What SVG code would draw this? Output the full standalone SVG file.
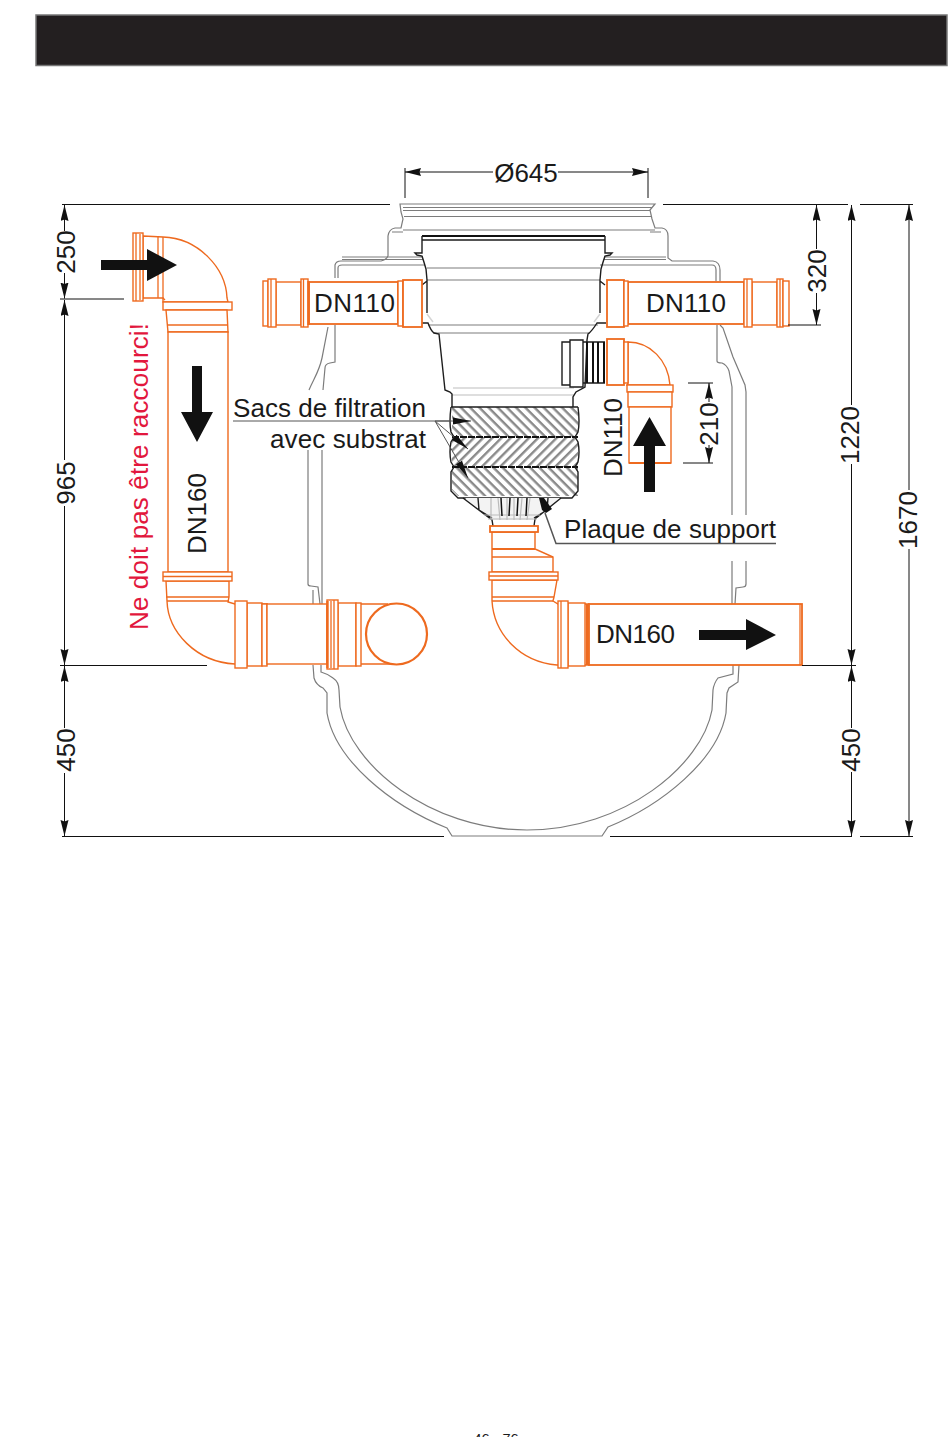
<svg xmlns="http://www.w3.org/2000/svg" width="950" height="1437" viewBox="0 0 950 1437">
<style>
text{font-family:"Liberation Sans",Arial,sans-serif;font-size:26px;fill:#1a1a1a}
.g{fill:none;stroke:#7c7c7c;stroke-width:1.2}
.lg{fill:none;stroke:#d4d4d4;stroke-width:1.5}
.b{fill:none;stroke:#1d1d1d;stroke-width:1.4}
.bt{fill:none;stroke:#111;stroke-width:2}
.o{fill:#fff;stroke:#ee6a1f;stroke-width:1.4}
.on{fill:none;stroke:#ee6a1f;stroke-width:1.3}
.ot{fill:none;stroke:#ee6a1f;stroke-width:2.4}
.d{fill:none;stroke:#111;stroke-width:1}
.dm{fill:none;stroke:#111;stroke-width:1;marker-end:url(#tip)}
.ld{fill:none;stroke:#555;stroke-width:1}
.ldm{fill:none;stroke:#555;stroke-width:1;marker-end:url(#ltip)}
.ar{fill:#111;stroke:none}
</style>
<defs>
<marker id="tip" markerUnits="userSpaceOnUse" markerWidth="17" markerHeight="9" refX="16" refY="4" orient="auto"><path d="M0 0 L16 4 L0 8 L1.500 4 Z" fill="#111"/></marker>
<marker id="ltip" markerUnits="userSpaceOnUse" markerWidth="20" markerHeight="9" refX="18" refY="4" orient="auto"><path d="M0 0.500 L18 4 L0 7.500 Z" fill="#111"/></marker>
<pattern id="h1" width="6.500" height="6.500" patternUnits="userSpaceOnUse" patternTransform="rotate(45)"><rect width="6.500" height="6.500" fill="#fff"/><rect width="6.500" height="2.400" fill="#8a8a8a"/></pattern>
<pattern id="h2" width="6.500" height="6.500" patternUnits="userSpaceOnUse" patternTransform="rotate(-45)"><rect width="6.500" height="6.500" fill="#fff"/><rect width="6.500" height="2.400" fill="#8a8a8a"/></pattern>
</defs>
<rect width="950" height="1437" fill="#fff"/>
<rect id="header" x="36" y="15" width="911" height="50.500" fill="#231f20" stroke="#777" stroke-width="1.500"/>

<g id="tank">
<path class="g" d="M309 390 C314 378 319 372 322 358 L328 327"/>
<path class="g" d="M323 390 L325 368 Q325 364 330 363 L335 362 L335 325"/>
<path class="g" d="M335 278 L335 265 Q336 261 341 261 L381 261 Q386 260 388 256 L388 236 Q389 229 395 228 L401 228 L403 219 L401 212 L400 204 L655 204 L650 210 L652 219 L655 228 L662 228 Q668 229 668 236 L668 258 L672 261 L713 261 Q720 262 720 270 L720 281"/>
<path class="g" d="M338 278 L338 268 Q338 265 342 265 L425 265 M600 265 L712 265 Q716 265 716 270 L716 281"/>
<path class="g" d="M392 232 L403 232 M650 232 L661 232 M403 207.500 L652 207.500 M403 210.500 L650 210.500 M404 216.500 L651 216.500 M403 230 L655 230"/>
<path class="g" d="M342 257 L423 257 M604 257 L666 257 M342 259.500 L423 259.500 M604 259.500 L666 259.500"/>
<path class="g" d="M717 325 L717 361 Q717 363 722 363 Q727 365 729 371 L732 387 L732 515"/>
<path class="g" d="M720 325 L723 328 L733 357 L745 385 L746 392 L746 515"/>
<path class="g" d="M732 561 L732 604 M746 561 L746 584 Q746 587 743 587 L736 588 L735 604"/>
<path class="g" d="M308 450 L308 584 Q308 586 311 586 L318 587 L320 604 M322 450 L322 604 M313 590 L313 604"/>
<path class="g" d="M313 665 L314 678 Q316 685 323 688 L327 693 L327 713 C335 760 390 805 447 828 L452 836 L602 836 L608 827 C662 805 718 760 726 713 L727 693 L729 688 L738 682 L739 665"/>
<path class="g" d="M321 665 L321 672 Q328 674 333 678 Q339 682 339 690 L340 707 C350 765 430 830 527 830 C624 830 702 765 712 710 L713 690 Q714 683 718 678 L733 674 L733 665"/>
</g>

<g id="filter">
<path class="g" d="M427 268 L600 268 M427 280 L600 280 M428 325 L598 325 M433 333 L590 333"/>
<path class="lg" d="M453 388 L574 388 M452 395 L574 395 M427 314 L433 322 M600 314 L594 322"/>
<path class="bt" d="M422 236 L605 236"/>
<path class="b" d="M422 236 L422 253 L415 253 L417 255 L422 256 Q424 262 426 269 L427 280 L427 313 M422 285 L427 281 M422 323 L428 323 Q431 331 434 333 L439 334 L445 390 L450 392 L452 394 L452 407"/>
<path class="b" d="M422 240 L605 240 M605 236 L605 253 L612 253 L610 255 L605 256 Q603 262 601 269 L600 280 L600 313 M605 285 L600 281 M606 323 L597 323 Q592 331 588 334 L587 340 L585 387 L576 392 L573 397 L573 407"/>
<path d="M452 407 L578 407 L578 437 L452 437 Z" fill="url(#h1)"/>
<path d="M452 437 L578 437 L578 467 L452 467 Z" fill="url(#h2)"/>
<path d="M452 467 L578 467 L578 496 L458 496 L452 490 Z" fill="url(#h1)"/>
<path class="bt" stroke-dasharray="7 1" d="M452 437 L578 437 M452 467 L578 467"/>
<path class="b" stroke-width="1.600" d="M451 407 L578 407 M451 407 Q449 422 451 432 L454 437 L451 442 Q449 452 451 462 L454 467 L451 472 L451 491 L458 498 L572 498 L578 491 L578 472 L575 467 L578 462 Q580 452 578 442 L575 437 L578 432 Q580 422 578 407"/>
<path d="M465 498 L493 520 L534 520 L561 498 Z" fill="#f3f3f3"/>
<path class="b" d="M463 498 L492 520 L493 526 M478 498 L479 510 L492 518 M561 498 L535 519 L534 526 M548 498 L547 510 L534 518"/>
<path class="g" style="stroke:#bbb" d="M491 498 L491 520 M498 498 L500 520 M507 498 L507 520 M514 498 L514 520 M522 498 L520 520 M530 498 L527 520 M484 515 L540 515 M488 519 L537 519"/>
<path class="bt" style="stroke-width:1.500" d="M510 498 L509 516 M518 498 L517 516 M501 498 L502 516 M527 498 L526 516"/>
<path class="ar" d="M539 498 L544 498 L552 509 L546 513 L542 510 Z"/>
</g>

<g id="adapter">
<path class="b" fill="#fff" d="M583 340 L570 340 L570 342 L562 342 L562 385 L570 385 L570 387 L583 387 Z M570 342 L570 385"/>
<path class="b" d="M583 342 L605 342 M583 383 L605 383"/>
<path class="bt" d="M587 342 L587 383 M593 342 L593 383 M598 342 L598 383 M604 342 L604 383"/>
</g>

<g id="pipe-inlet">
<path class="o" d="M143 236 L163 237 C198 238 226 268 227 298 L228 302 L163 302 L163 298 L143 298 Z"/>
<path class="on" d="M158 236 L158 298 M163 237 L163 298 M163 298 L165 300"/>
<rect class="o" x="133" y="233" width="10" height="68"/>
<path class="on" d="M136 233 L136 301 M140 234 L140 300"/>
<rect class="o" x="163" y="302" width="69" height="8"/>
<path class="o" d="M166 310 L227 310 L228 332 L168 332 Z"/>
<path class="on" d="M167 325 L228 325"/>
</g>

<g id="pipe-dn160-vertical">
<path class="o" d="M168 332 L228 332 L228 572 L168 572 Z"/>
<path class="o" d="M166 581 L229 581 L229 597 L228 602 L235 604 L267 604 L267 664 L235 664 C196 662 168 632 167 601 Z"/>
<path class="on" d="M166 597 L229 597 M167 601 L229 601"/>
<rect class="o" x="163" y="572" width="69" height="9"/>
<path class="on" d="M163 576.500 L232 576.500"/>
</g>

<g id="pipe-horizontal-inlet">
<rect class="o" x="247" y="603" width="15" height="63"/>
<rect class="o" x="262" y="604" width="5" height="62"/>
<rect class="o" x="235" y="601" width="12" height="67"/>
<rect class="o" x="267" y="604" width="60" height="60"/>
<rect class="o" x="338" y="603" width="18" height="63"/>
<rect class="o" x="356" y="603" width="5" height="63"/>
<rect class="o" x="327" y="600" width="11" height="69"/>
<path class="on" d="M331 601 L331 668 M334 600 L334 669 M361 604 L388 604 M361 664 L396 664"/>
<path class="ot" d="M327.500 601 L327.500 668"/>
<circle cx="396.500" cy="634" r="30.500" fill="#fff" stroke="#ee6a1f" stroke-width="2.200"/>
</g>

<g id="pipe-dn110-left">
<rect class="o" x="309" y="282" width="89" height="42" stroke-width="1.800" style="stroke-width:1.800"/>
<rect class="o" x="276" y="282" width="25" height="43"/>
<rect class="o" x="263" y="281" width="5" height="45"/>
<rect class="o" x="268" y="279" width="8" height="48"/>
<rect class="o" x="301" y="279" width="7" height="48"/>
<path class="on" d="M303.500 279 L303.500 327 M271 279 L271 327"/>
<path class="ot" d="M308.500 281 L308.500 325"/>
<rect class="o" x="398" y="281" width="5" height="45"/>
<rect class="o" x="403" y="280" width="19" height="47" style="stroke-width:1.800"/>
</g>

<g id="pipe-dn110-right">
<rect class="o" x="628" y="282" width="116" height="42" style="stroke-width:1.800"/>
<rect class="o" x="752" y="282" width="25" height="43"/>
<rect class="o" x="744" y="279" width="8" height="48"/>
<rect class="o" x="777" y="279" width="6" height="48"/>
<rect class="o" x="783" y="281" width="6" height="45"/>
<path class="on" d="M747 279 L747 327 M780 279 L780 327"/>
<rect class="o" x="607" y="280" width="17" height="47" style="stroke-width:1.800"/>
<rect class="o" x="624" y="281" width="4" height="45"/>
</g>

<g id="pipe-dn110-elbow">
<path class="o" d="M628 342 C650 342 668 360 670 385 L627 385 L628 383 Z"/>
<rect class="o" x="607" y="339" width="17" height="46" style="stroke-width:1.800"/>
<rect class="o" x="624" y="342" width="4" height="41"/>
<rect class="o" x="627" y="385" width="46" height="7"/>
<rect class="o" x="628" y="392" width="44" height="15"/>
<rect class="o" x="629" y="407" width="42" height="56"/>
<path class="ot" style="stroke-width:1.800" d="M629 463 L671 463"/>
</g>

<g id="pipe-outlet">
<path class="o" d="M492 532 L535 532 L535 549 L553 557 L553 572 L492 572 Z"/>
<path class="on" d="M492 557 L553 557"/>
<path class="ot" style="stroke-width:1.800" d="M492 549 L535 549"/>
<rect class="o" x="490" y="526" width="48" height="6" style="stroke-width:1.800"/>
<path class="o" d="M492 580 L557 580 L554 597 L553 601 L558 604 L589 604 L589 665 L557 665 C520 662 494 634 492 601 Z"/>
<path class="on" d="M492 597 L554 597 M492 601 L553 601"/>
<rect class="o" x="489" y="572" width="69" height="8"/>
<path class="on" d="M489 576 L558 576"/>
<rect class="o" x="568" y="603" width="17" height="63"/>
<rect class="o" x="558" y="601" width="10" height="67"/>
<path class="on" d="M561 601 L561 668"/>
<rect class="o" x="589" y="604" width="213" height="61" style="stroke-width:1.800"/>
<path class="on" d="M800 604 L800 665"/>
<path class="ot" d="M587 604 L587 665"/>
</g>

<g id="flow-arrows">
<path id="arrow-1" class="ar" d="M101 260 L147 260 L147 249 L177 265 L147 281 L147 270 L101 270 Z"/>
<path id="arrow-2" class="ar" d="M192 366 L202 366 L202 412 L213 412 L197 442 L181 412 L192 412 Z"/>
<path id="arrow-3" class="ar" d="M644 492 L655 492 L655 446 L666 446 L649.500 417 L633 446 L644 446 Z"/>
<path id="arrow-4" class="ar" d="M699 630 L746 630 L746 619 L776 635 L746 650 L746 640 L699 640 Z"/>
</g>

<g id="connectors">
<path class="d" d="M62 204.500 L390 204.500 M663 204.500 L848 204.500 M860 204.500 L913 204.500 M62 836.500 L444 836.500 M610 836.500 L852 836.500 M860 836.500 L913 836.500"/>
<path class="d" d="M60 299 L124 299 M60 665.500 L207 665.500 M802 665.500 L856 665.500 M788 325 L821 325 M688 383 L713 383 M683 463 L713 463 M405 168 L405 198 M648 168 L648 198"/>
<path class="dm" d="M493 172 L405 172"/>
<path class="dm" d="M558 172 L648 172"/>
<path class="dm" d="M64.500 231 L64.500 205"/>
<path class="dm" d="M64.500 273 L64.500 298.500"/>
<path class="dm" d="M64.500 460 L64.500 300"/>
<path class="dm" d="M64.500 506 L64.500 665"/>
<path class="dm" d="M64.500 728 L64.500 666"/>
<path class="dm" d="M64.500 773 L64.500 836"/>
<path class="dm" d="M816.500 249 L816.500 205"/>
<path class="dm" d="M816.500 293 L816.500 325"/>
<path class="dm" d="M851.500 405 L851.500 205"/>
<path class="dm" d="M851.500 464 L851.500 665"/>
<path class="dm" d="M851.500 728 L851.500 666"/>
<path class="dm" d="M851.500 772 L851.500 836"/>
<path class="dm" d="M909 490 L909 205"/>
<path class="dm" d="M909 549 L909 836"/>
<path class="dm" d="M709 402 L709 383"/>
<path class="dm" d="M709 445 L709 463"/>
<path class="ld" d="M233 421 L450 421"/>
<path class="ldm" d="M435 421 L471 421"/>
<path class="ldm" d="M435 421 L468 449"/>
<path class="ldm" d="M435 421 L468 478"/>
<path class="ld" style="stroke-width:1.500" d="M776 543.500 L556 543.500 L545 513"/>
</g>

<g id="labels">
<text x="526" y="182" text-anchor="middle">Ø645</text>
<text x="233" y="417" textLength="193" lengthAdjust="spacing">Sacs de filtration</text>
<text x="270" y="448" textLength="156" lengthAdjust="spacing">avec substrat</text>
<text x="564" y="538" textLength="212" lengthAdjust="spacing">Plaque de support</text>
<text x="314" y="312" textLength="81">DN110</text>
<text x="646" y="312" textLength="80">DN110</text>
<text x="596" y="643" textLength="79">DN160</text>
<text transform="translate(206 554) rotate(-90)">DN160</text>
<text transform="translate(622 477) rotate(-90)">DN110</text>
<text transform="translate(148 630) rotate(-90)" style="fill:#e2173d" textLength="307" lengthAdjust="spacing">Ne doit pas être raccourci!</text>
<text transform="translate(75 252) rotate(-90)" text-anchor="middle">250</text>
<text transform="translate(75 483) rotate(-90)" text-anchor="middle">965</text>
<text transform="translate(75 750) rotate(-90)" text-anchor="middle">450</text>
<text transform="translate(826 271) rotate(-90)" text-anchor="middle">320</text>
<text transform="translate(859 435) rotate(-90)" text-anchor="middle">1220</text>
<text transform="translate(860 750) rotate(-90)" text-anchor="middle">450</text>
<text transform="translate(917 520) rotate(-90)" text-anchor="middle">1670</text>
<text transform="translate(718 424) rotate(-90)" text-anchor="middle">210</text>
<text x="496" y="1443.500" text-anchor="middle" style="font-size:14.500px">46 - 76</text>
</g>
</svg>
